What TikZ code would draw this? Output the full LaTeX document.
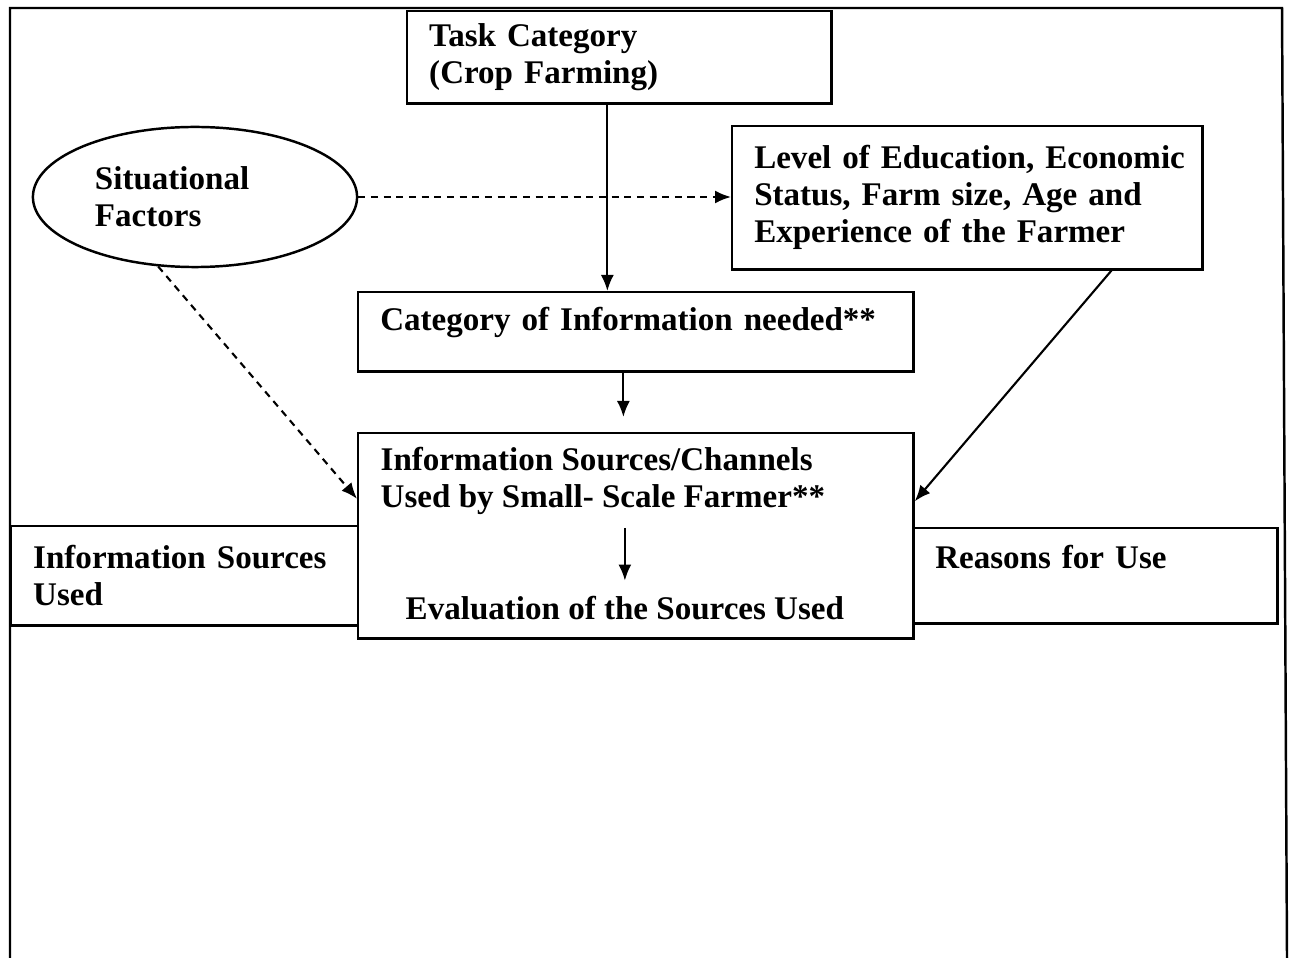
\documentclass[tikz,border=0pt]{standalone}
\usepackage{fontspec}
\setmainfont{Liberation Serif}
\usetikzlibrary{arrows.meta,shapes.geometric}

\tikzset{
  txt/.style={font=\fontsize{9.4}{10.5}\selectfont\bfseries},
  frame/.style={draw, line width=0.7pt, txt, align=left, anchor=north west, inner xsep=0.22cm, inner ysep=0pt},
  arr/.style={line width=0.6pt, -{Latex[length=0.16cm,width=0.13cm]}},
  dasharr/.style={arr, dash pattern=on 2pt off 1.6pt},
}

\begin{document}
\begin{tikzpicture}[x=0.01cm, y=-0.01cm]
		%%%%% START %%%%%
		\useasboundingbox (0,0) rectangle (1291,958);
		
		\draw[line width=0.7pt] (10,958) -- (10,8) -- (1282,8) -- (1287,958);
		
		\node[frame, text width=3.80cm, minimum height=0.92cm] (task) at (406,10) {Task Category\\(Crop Farming)};
		\node[draw, ellipse, line width=0.7pt, minimum width=3.24cm, minimum height=1.40cm, inner sep=0pt, txt, text width=2.0cm, align=left] (sit) at (195,197) {Situational\\Factors};
		\node[frame, text width=4.26cm, minimum height=1.43cm] (lev) at (731,125) {\mbox{Level of Education, Economic}\\Status, Farm size, Age and\\Experience of the Farmer};
		\node[frame, text width=5.11cm, minimum height=0.79cm, text depth=0.25cm] (cat) at (357,291) {Category of Information needed**};
		
		\node[frame, text width=3.03cm, minimum height=0.99cm] (used) at (10,525) {Information Sources\\Used};
		\node[frame, text width=3.20cm, minimum height=0.95cm, text depth=0.37cm] (why) at (912,527) {Reasons for Use};
		\node[draw, line width=0.7pt, fill=white, minimum width=5.55cm, minimum height=2.05cm, anchor=north west] (srcbox) at (357,432) {};
		
		\node[txt, align=left, anchor=north west, inner sep=0pt] (srctxt) at ([shift={(0.23cm,-0.15cm)}]srcbox.north west) {Information Sources/Channels\\Used by Small- Scale Farmer**};
		\node[txt, anchor=base, inner sep=0pt] (evaltxt) at ([shift={(-0.11cm,0.20cm)}]srcbox.south) {Evaluation of the Sources Used};
		
		\draw[arr] ([xshift=-0.12cm]task.south) -- ([xshift=-0.12cm]task.south |- cat.north);
		\draw[dasharr] (sit.east) -- (sit.east -| lev.west);
		\draw[arr, shorten >=0.15cm] ([xshift=-0.125cm]cat.south) -- ([xshift=-0.125cm]cat.south |- srcbox.north);
		\draw[dasharr] (sit.-118) -- ([yshift=0.37cm]srcbox.west);
		\draw[arr] ([xshift=1.44cm]lev.south) -- ([yshift=0.345cm]srcbox.east);
		\draw[arr] ([yshift=-0.12cm]srctxt.south -| evaltxt.north) -- ([yshift=0.15cm]evaltxt.north);
		
		%%%%% END %%%%%
\end{tikzpicture}
\end{document}
